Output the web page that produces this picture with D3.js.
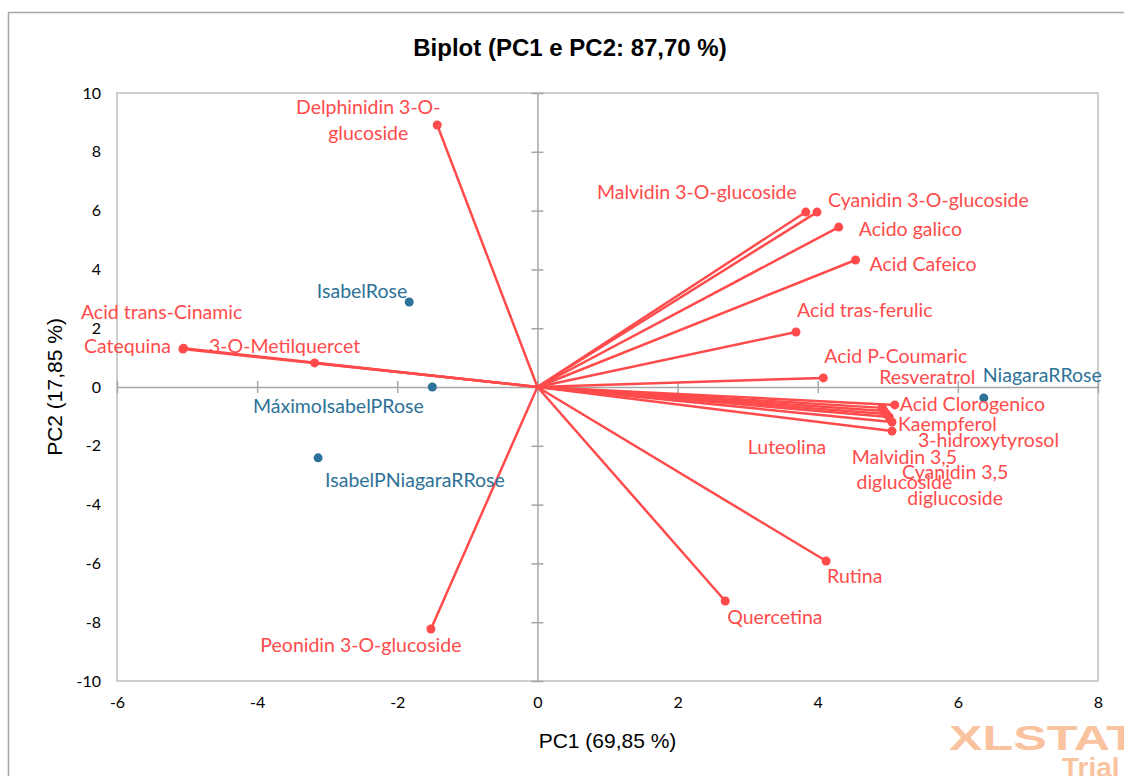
<!DOCTYPE html>
<html>
<head>
<meta charset="utf-8">
<script src="https://cdn.jsdelivr.net/npm/d3@7"></script>
<style>
body { margin:0; background:#fff; }
.lbl { font-family: Lato, "Open Sans", sans-serif; font-size:19.5px; }
.tick-lbl { font-family: Lato, "Open Sans", sans-serif; font-size:16px; fill:#000; }
</style>
</head>
<body>
<div class="biplot-container"></div>
<script>
// active variables (red vectors)
var varNames = ['Delphinidin 3-O-glucoside','Malvidin 3-O-glucoside','Cyanidin 3-O-glucoside','Acido galico',
	'Acid Cafeico','Acid tras-ferulic','Acid P-Coumaric','Resveratrol','Acid Clorogenico','Luteolina',
	'Malvidin 3,5 diglucoside','Cyanidin 3,5 diglucoside','Kaempferol','3-hidroxytyrosol','Rutina',
	'Quercetina','Peonidin 3-O-glucoside','Acid trans-Cinamic','Catequina','3-O-Metilquercet'];
var varPC1 = [-1.43, 3.83, 3.99, 4.30, 4.54, 3.69, 4.08, 4.92, 5.10, 4.95, 4.98, 5.02, 5.06, 5.06, 4.12, 2.68, -1.52, -5.05, -5.06, -3.18];
var varPC2 = [8.91, 5.95, 5.95, 5.44, 4.32, 1.87, 0.31, -0.71, -0.61, -0.82, -0.92, -1.02, -1.19, -1.50, -5.92, -7.28, -8.23, 1.32, 1.29, 0.82];

// observations (blue points)
var obsNames = ['IsabelRose','MáximoIsabelPRose','IsabelPNiagaraRRose','NiagaraRRose'];
var obsPC1 = [-1.83, -1.50, -3.13, 6.37];
var obsPC2 = [2.89, 0.00, -2.41, -0.37];

var xTicks = [-6,-4,-2,0,2,4,6,8];
var yTicks = [-10,-8,-6,-4,-2,0,2,4,6,8,10];

// label placement: [dx, dy, anchor, second-line dy, lines]
var labelPos = {
	'Delphinidin 3-O-glucoside': [-69,-18,'middle',26, ['Delphinidin 3-O-','glucoside']],
	'Malvidin 3-O-glucoside': [-9,-20,'end'],
	'Cyanidin 3-O-glucoside': [11,-12,'start'],
	'Acido galico': [20,2,'start'],
	'Acid Cafeico': [14,4,'start'],
	'Acid tras-ferulic': [1,-22,'start'],
	'Acid P-Coumaric': [1,-22,'start'],
	'Resveratrol': [-3,-31,'start'],
	'Acid Clorogenico': [5,-1,'start'],
	'Luteolina': [-58,36,'end'],
	'Malvidin 3,5 diglucoside': [18,43,'middle',25, ['Malvidin 3,5','diglucoside']],
	'Cyanidin 3,5 diglucoside': [66,55,'middle',26, ['Cyanidin 3,5','diglucoside']],
	'Kaempferol': [6,2,'start'],
	'3-hidroxytyrosol': [26,9,'start'],
	'Rutina': [1,15,'start'],
	'Quercetina': [2,16,'start'],
	'Peonidin 3-O-glucoside': [-70,16,'middle'],
	'Acid trans-Cinamic': [-22,-36,'middle'],
	'Catequina': [-12,-3,'end'],
	'3-O-Metilquercet': [-30,-17,'middle'],
	'IsabelRose': [-2,-11,'end'],
	'MáximoIsabelPRose': [-94,19,'middle'],
	'IsabelPNiagaraRRose': [7,22,'start'],
	'NiagaraRRose': [-1,-23,'start']
};

var red = '#FF4B4B', blue = '#2D7298', grid = '#BFBFBF';

var W = 1124, H = 776;
var margin = {top:93, right:26, bottom:95, left:117},
	width = W - margin.left - margin.right,
	height = H - margin.top - margin.bottom;

var svg = d3.select('.biplot-container').append('svg')
	.attr('width', W)
	.attr('height', H);

// outer chart frame
svg.append('rect')
	.attr('x', 8.5).attr('y', 12.5)
	.attr('width', W).attr('height', H)
	.attr('fill', 'none')
	.attr('stroke', '#A6A6A6')
	.attr('stroke-width', 1.5);

svg.append('text')
	.attr('x', 570).attr('y', 56)
	.attr('text-anchor', 'middle')
	.style('font-family', '"Liberation Sans", Arial, sans-serif')
	.style('font-weight', 'bold')
	.style('font-size', '24px')
	.text('Biplot (PC1 e PC2: 87,70 %)');

var x = d3.scaleLinear().domain([-6, 8]).range([0, width]),
	y = d3.scaleLinear().domain([-10, 10]).range([height, 0]);

var g = svg.append('g')
	.attr('transform', 'translate(' + margin.left + ',' + margin.top + ')');

g.append('rect')
	.attr('width', width).attr('height', height)
	.attr('fill', 'none')
	.attr('stroke', grid)
	.attr('stroke-width', 1.5);

// axes through the origin with cross ticks
var yAxisG = g.append('g')
	.attr('transform', 'translate(' + x(0) + ',0)')
	.call(d3.axisLeft(y).tickValues(yTicks).tickSize(0).tickFormat(''));
var xAxisG = g.append('g')
	.attr('transform', 'translate(0,' + y(0) + ')')
	.call(d3.axisBottom(x).tickValues(xTicks).tickSize(0).tickFormat(''));
[yAxisG, xAxisG].forEach(function(a) {
	a.select('.domain').attr('stroke', '#A6A6A6').attr('stroke-width', 1.5);
});
yAxisG.selectAll('.tick line').attr('x1', -6).attr('x2', 6).attr('stroke', '#A6A6A6').attr('stroke-width', 1.5);
xAxisG.selectAll('.tick line').attr('y1', -6).attr('y2', 6).attr('stroke', '#A6A6A6').attr('stroke-width', 1.5);

// tick labels at the low side of the plot (plain hyphen minus, like Excel)
var fmt = function(d) { return String(d); };
g.append('g')
	.call(d3.axisLeft(y).tickValues(yTicks).tickSize(0).tickPadding(16).tickFormat(fmt))
	.call(function(s) { s.select('.domain').remove(); })
	.selectAll('text').attr('class', 'tick-lbl').attr('font-family', null).attr('font-size', null);
g.append('g')
	.attr('transform', 'translate(0,' + height + ')')
	.call(d3.axisBottom(x).tickValues(xTicks).tickSize(0).tickPadding(16).tickFormat(fmt))
	.call(function(s) { s.select('.domain').remove(); })
	.selectAll('text').attr('class', 'tick-lbl').attr('font-family', null).attr('font-size', null);

svg.append('text')
	.attr('x', margin.left + width / 2).attr('y', 748)
	.attr('text-anchor', 'middle')
	.style('font-family', '"Liberation Sans", Arial, sans-serif')
	.style('font-size', '21px')
	.text('PC1 (69,85 %)');
svg.append('text')
	.attr('transform', 'translate(62,' + (margin.top + height / 2) + ') rotate(-90)')
	.attr('text-anchor', 'middle')
	.style('font-family', '"Liberation Sans", Arial, sans-serif')
	.style('font-size', '21px')
	.text('PC2 (17,85 %)');

var vars = varNames.map(function(n, i) { return {name:n, pc1:varPC1[i], pc2:varPC2[i]}; });
var obs = obsNames.map(function(n, i) { return {name:n, pc1:obsPC1[i], pc2:obsPC2[i]}; });

// vectors
g.selectAll('.vec')
	.data(vars).enter().append('line')
	.attr('class', 'vec')
	.attr('x1', x(0)).attr('y1', y(0))
	.attr('x2', function(d) { return x(d.pc1); })
	.attr('y2', function(d) { return y(d.pc2); })
	.attr('stroke', red)
	.attr('stroke-width', 2.5);

g.selectAll('.vdot')
	.data(vars).enter().append('circle')
	.attr('class', 'vdot')
	.attr('cx', function(d) { return x(d.pc1); })
	.attr('cy', function(d) { return y(d.pc2); })
	.attr('r', 4.5)
	.attr('fill', red);

g.selectAll('.odot')
	.data(obs).enter().append('circle')
	.attr('class', 'odot')
	.attr('cx', function(d) { return x(d.pc1); })
	.attr('cy', function(d) { return y(d.pc2); })
	.attr('r', 4.5)
	.attr('fill', blue);

function addLabels(data, color) {
	data.forEach(function(d) {
		var p = labelPos[d.name];
		var t = g.append('text')
			.attr('class', 'lbl')
			.attr('fill', color)
			.attr('text-anchor', p[2])
			.attr('x', x(d.pc1) + p[0])
			.attr('y', y(d.pc2) + p[1])
			.attr('dy', '0.35em');
		if (p[4]) {
			t.append('tspan').attr('x', x(d.pc1) + p[0]).text(p[4][0]);
			t.append('tspan').attr('x', x(d.pc1) + p[0]).attr('dy', p[3]).text(p[4][1]);
		} else {
			t.text(d.name);
		}
	});
}
addLabels(vars, red);
addLabels(obs, blue);

// trial watermark (runs off the page edge as in the original)
svg.append('text')
	.attr('x', 949).attr('y', 750)
	.attr('textLength', 188)
	.attr('lengthAdjust', 'spacingAndGlyphs')
	.style('font-family', '"Liberation Sans", Arial, sans-serif')
	.style('font-weight', 'bold')
	.style('font-size', '35px')
	.style('fill', '#F9C3A0')
	.text('XLSTAT');
svg.append('text')
	.attr('x', 1062).attr('y', 777)
	.style('font-family', '"Liberation Sans", Arial, sans-serif')
	.style('font-weight', 'bold')
	.style('font-size', '28px')
	.style('fill', '#F9C3A0')
	.text('Trial');
</script>
</body>
</html>
